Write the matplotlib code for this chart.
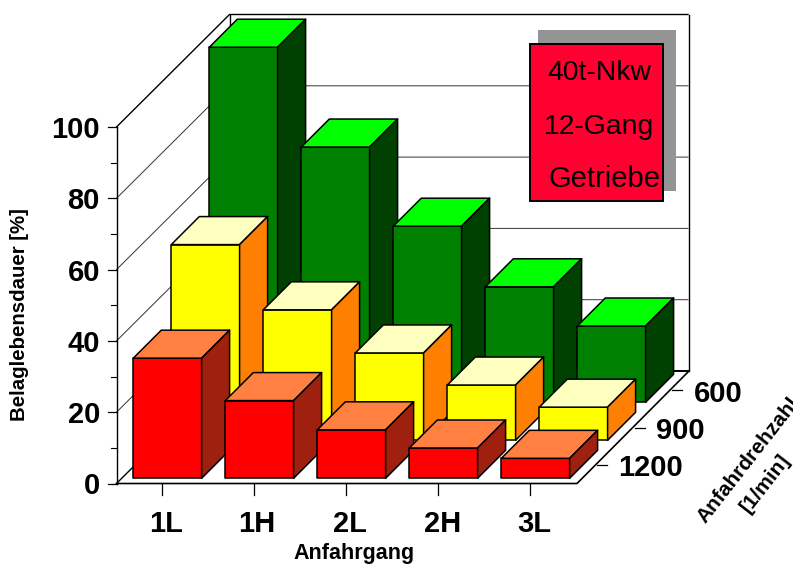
import matplotlib
matplotlib.use('Agg')
import matplotlib.pyplot as plt
from matplotlib.patches import Polygon, Rectangle

plt.rcParams['font.family'] = ['Liberation Sans', 'DejaVu Sans']

gears = ['1L', '1H', '2L', '2H', '3L']
speeds = ['1200', '900', '600']
y_ticks = [0, 20, 40, 60, 80, 100]
y_minor = [10, 30, 50, 70, 90]

# Belaglebensdauer [%], one list per Anfahrdrehzahl
life_1200 = [33.7, 21.8, 13.6, 8.5, 5.6]
life_900 = [54.9, 36.6, 24.5, 15.5, 9.3]
life_600 = [99.6, 71.6, 49.4, 32.4, 21.4]
life = [life_1200, life_900, life_600]

# front, top, side
row_colors = [
    ('#ff0000', '#ff8040', '#a02010'),
    ('#ffff00', '#ffffc0', '#ff8000'),
    ('#008000', '#00ff00', '#004000'),
]

# oblique projection, all in pixels of the 793x565 picture
X0, Y0 = 116.5, 483.5        # front-left corner of the floor
FLOOR_W = 460.5
DEPTH_X, DEPTH_Y = 113, 112.5
UNIT = 3.565                 # px per percent
BAR_X, BAR_Y = 133.3, 478.3  # front-left foot of the first bar
BAR_W = 68.3
BAR_D = 28
STEP_X = 92
ROW_STEP = 38


def wall_y(v):
    return Y0 - v * UNIT


fig = plt.figure(figsize=(7.93, 5.65), dpi=100)
ax = fig.add_axes([0, 0, 1, 1])
ax.set_xlim(0, 793)
ax.set_ylim(565, 0)
ax.axis('off')

# gridlines on the walls
for v in y_ticks:
    y = wall_y(v)
    lw = 1.0 if v in (0, 100) else 0.7
    col = 'black' if v in (0, 100) else '#333333'
    ax.plot([X0, X0 + DEPTH_X, X0 + DEPTH_X + FLOOR_W - 2],
            [y, y - DEPTH_Y, y - DEPTH_Y], color=col, lw=lw, zorder=1)

# wall and floor edges
ax.plot([X0 + DEPTH_X] * 2, [wall_y(100) - DEPTH_Y, Y0 - DEPTH_Y], color='black', lw=1.0, zorder=1)
ax.plot([689, 689], [wall_y(100) - DEPTH_Y, Y0 - DEPTH_Y], color='black', lw=1.0, zorder=1)
ax.plot([X0, X0], [wall_y(100), Y0], color='black', lw=1.0, zorder=1)
ax.plot([X0, X0 + FLOOR_W, 689], [Y0, Y0, Y0 - DEPTH_Y], color='black', lw=1.2, zorder=1)
ax.plot([X0 + DEPTH_X, 689], [Y0 - DEPTH_Y, Y0 - DEPTH_Y], color='black', lw=1.4, zorder=1)

# y axis ticks and labels
for v in y_ticks:
    ax.plot([X0 - 9, X0], [wall_y(v)] * 2, color='black', lw=0.9)
    ax.text(100, wall_y(v), str(v), ha='right', va='center_baseline',
            fontsize=21, fontweight='bold')
for v in y_minor:
    ax.plot([X0 - 6, X0], [wall_y(v)] * 2, color='black', lw=0.8)

# bars, back row first, left to right
z = 2
for r in [2, 1, 0]:
    front, top, side = row_colors[r]
    for i, v in enumerate(life[r]):
        x = BAR_X + STEP_X * i + ROW_STEP * r
        foot = BAR_Y - ROW_STEP * r
        head = foot - v * UNIT
        faces = [
            ([(x, foot), (x + BAR_W, foot), (x + BAR_W, head), (x, head)], front),
            ([(x, head), (x + BAR_W, head), (x + BAR_W + BAR_D, head - BAR_D),
              (x + BAR_D, head - BAR_D)], top),
            ([(x + BAR_W, foot), (x + BAR_W + BAR_D, foot - BAR_D),
              (x + BAR_W + BAR_D, head - BAR_D), (x + BAR_W, head)], side),
        ]
        for pts, c in faces:
            ax.add_patch(Polygon(pts, closed=True, facecolor=c, edgecolor='black',
                                 lw=1.1, joinstyle='round', zorder=z))
        z += 1

# gear ticks and labels
label_x = [166, 257, 350, 443, 534]
for i, g in enumerate(gears):
    tx = BAR_X + STEP_X * i + 29
    ax.plot([tx, tx], [Y0, 495], color='black', lw=0.9)
    ax.text(label_x[i], 524, g, ha='center', va='center', fontsize=21, fontweight='bold')

# speed ticks and labels
tick_x = [597, 634.5, 672]
tick_y = [465, 427.5, 390]
label_pos = [(651, 468), (680, 431), (718, 393.5)]
for s, tx, ty, pos in zip(speeds, tick_x, tick_y, label_pos):
    ax.plot([tx, tx + 10], [ty, ty], color='black', lw=0.9)
    ax.text(pos[0], pos[1], s, ha='center', va='center', fontsize=21, fontweight='bold')

# axis titles
ax.text(354, 554, 'Anfahrgang', ha='center', va='center', fontsize=15.5, fontweight='bold')
ax.text(20, 315, 'Belaglebensdauer [%]', ha='center', va='center', rotation=90,
        fontsize=14.7, fontweight='bold')
ax.text(705, 524, 'Anfahrdrehzahl', ha='left', va='baseline', rotation=52,
        rotation_mode='anchor', fontsize=15, fontweight='bold')
ax.text(765, 483, '[1/min]', ha='center', va='center', rotation=52,
        rotation_mode='anchor', fontsize=15, fontweight='bold')

# legend box with shadow
ax.add_patch(Rectangle((538, 30), 138, 161, facecolor='#949494', edgecolor='none', zorder=50))
ax.add_patch(Rectangle((529.5, 44), 133.5, 157, facecolor='#ff0030', edgecolor='black',
                       lw=1.4, zorder=51))
ax.text(547, 80, '40t-Nkw', ha='left', va='baseline', fontsize=20.4, zorder=52)
ax.text(544, 134, '12-Gang', ha='left', va='baseline', fontsize=20.4, zorder=52)
ax.text(549, 187, 'Getriebe', ha='left', va='baseline', fontsize=21, zorder=52)

fig.savefig('out.png', dpi=100)
